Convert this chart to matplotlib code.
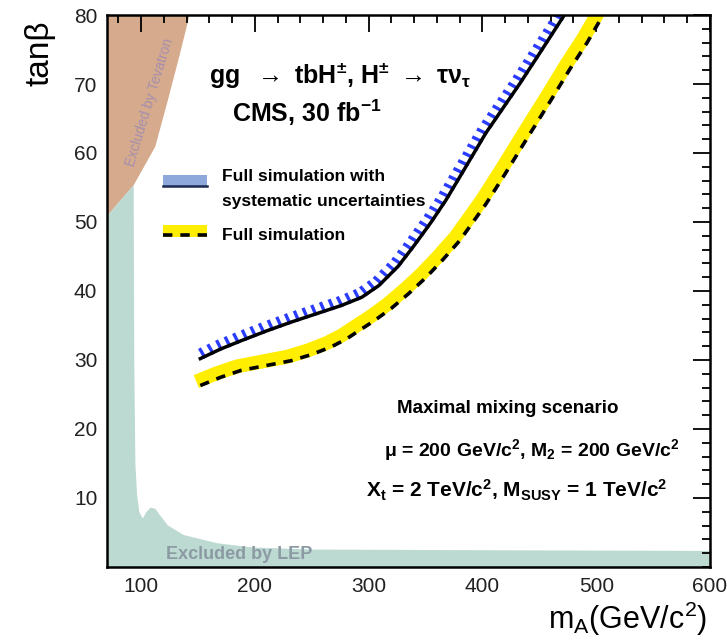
import matplotlib
matplotlib.use("Agg")
import matplotlib.pyplot as plt
import matplotlib.patheffects as pe
from matplotlib.patches import Rectangle
from matplotlib.lines import Line2D
from matplotlib.ticker import MultipleLocator
import matplotlib.transforms as mtransforms

plt.rcParams['font.family'] = ['Liberation Sans', 'DejaVu Sans']
plt.rcParams['mathtext.fontset'] = 'custom'
plt.rcParams['mathtext.rm'] = 'Liberation Sans:bold'
plt.rcParams['mathtext.bf'] = 'Liberation Sans:bold'
plt.rcParams['mathtext.it'] = 'Liberation Sans:bold'
plt.rcParams['mathtext.sf'] = 'Liberation Sans'

# excluded regions (boundaries)
tev_tanb = [51, 55.4, 61, 67.7, 74, 80]
tev_ma = [70, 93, 112, 123, 133, 142]

lep_ma = [70, 93, 93.5, 94.5, 96, 98, 101, 104, 108, 112, 116, 123, 137, 167, 197, 250, 400, 600]
lep_tanb = [51, 55.4, 30, 15, 10.5, 8, 7.1, 8.0, 8.7, 8.5, 7.6, 6.1, 4.7, 3.5, 2.9, 2.6, 2.5, 2.4]

# 5 sigma discovery curves
syst_ma = [152, 170, 188, 210, 232, 254, 276, 294, 309, 326, 340, 355, 368, 385, 403, 418, 433, 452, 472]
syst_tanb = [30.2, 31.6, 32.8, 34.2, 35.5, 36.7, 37.9, 39.1, 40.8, 43.6, 46.6, 50.0, 53.2, 57.9, 62.9, 66.5, 70.1, 74.9, 80.0]

full_ma = [152, 170, 188, 210, 232, 250, 267, 280, 291, 305, 320, 335, 350, 365, 380, 403, 420, 441, 460, 477, 492, 506]
full_tanb = [26.3, 27.5, 28.5, 29.2, 29.9, 30.8, 31.9, 33.0, 34.2, 35.7, 37.5, 39.6, 41.9, 44.5, 47.3, 52.6, 57.0, 62.6, 67.6, 72.2, 76.0, 80.0]

X_MIN, X_MAX = 70, 600
Y_MIN, Y_MAX = 0, 80

fig = plt.figure(figsize=(7.27, 6.44), dpi=100)
ax = fig.add_axes([0.1472, 0.1196, 0.8294, 0.8571])

ax.fill_betweenx(tev_tanb, X_MIN, tev_ma, color='#d6aa8c', lw=0, zorder=1)
ax.fill_between(lep_ma, Y_MIN, lep_tanb, color='#bcd9d2', lw=0, zorder=1)

ax.text(108, 67.4, "Excluded by Tevatron", rotation=73, fontsize=10,
        color='#a58fae', ha='center', va='center', zorder=2)
ax.text(186, 1.8, "Excluded by LEP", fontsize=13, fontweight='bold',
        color='#8c9ba3', ha='center', va='center', zorder=2)

# full simulation: yellow band + dashed line
band = mtransforms.offset_copy(ax.transData, fig=fig, x=-4, y=4, units='dots')
ax.plot(full_ma, full_tanb, color='#ffee00', lw=10, transform=band,
        solid_capstyle='butt', solid_joinstyle='round', zorder=3)
ax.plot(full_ma, full_tanb, color='black', lw=2.6, dashes=(2.6, 2.2), zorder=4)

# with systematics: blue hatched + solid line
ax.plot(syst_ma, syst_tanb, color='none', lw=2,
        path_effects=[pe.withTickedStroke(angle=95, spacing=6.5, length=0.9,
                                          linewidth=2.4, foreground='#2a3cff')],
        zorder=3)
ax.plot(syst_ma, syst_tanb, color='black', lw=2.5, solid_joinstyle='round', zorder=4)

# legend drawn by hand, ROOT style
ax.add_patch(Rectangle((0.093, 0.689), 0.073, 0.022, transform=ax.transAxes,
                       facecolor='#8fa8dc', edgecolor='none', zorder=5))
ax.add_line(Line2D([0.093, 0.166], [0.690, 0.690], transform=ax.transAxes,
                   color='#1a2a50', lw=1.8, zorder=6))
ax.add_patch(Rectangle((0.093, 0.598), 0.073, 0.022, transform=ax.transAxes,
                       facecolor='#ffee00', edgecolor='none', zorder=5))
ax.add_line(Line2D([0.093, 0.166], [0.601, 0.601], transform=ax.transAxes,
                   color='black', lw=2.6, dashes=(2.6, 2.2), zorder=6))
ax.text(0.191, 0.708, "Full simulation with", transform=ax.transAxes,
        fontsize=12.5, fontweight='bold', ha='left', va='center')
ax.text(0.191, 0.663, "systematic uncertainties", transform=ax.transAxes,
        fontsize=12.5, fontweight='bold', ha='left', va='center')
ax.text(0.191, 0.600, "Full simulation", transform=ax.transAxes,
        fontsize=12.5, fontweight='bold', ha='left', va='center')

ax.text(0.386, 0.891, r"gg  $\rightarrow$ tbH$^{\pm}$, H$^{\pm}$ $\rightarrow$ $\tau\nu_{\tau}$",
        transform=ax.transAxes, fontsize=18, fontweight='bold', ha='center', va='center')
ax.text(0.332, 0.822, r"CMS, 30 fb$^{-1}$", transform=ax.transAxes,
        fontsize=18, fontweight='bold', ha='center', va='center')

ax.text(0.665, 0.288, "Maximal mixing scenario", transform=ax.transAxes,
        fontsize=13.5, fontweight='bold', ha='center', va='center')
ax.text(0.705, 0.212, r"μ = 200 GeV/c$^{2}$, M$_{2}$ = 200 GeV/c$^{2}$",
        transform=ax.transAxes, fontsize=14, fontweight='bold', ha='center', va='center')
ax.text(0.68, 0.138, r"X$_{t}$ = 2 TeV/c$^{2}$, M$_{SUSY}$ = 1 TeV/c$^{2}$",
        transform=ax.transAxes, fontsize=15, fontweight='bold', ha='center', va='center')

ax.set_xlim(X_MIN, X_MAX)
ax.set_ylim(Y_MIN, Y_MAX)
ax.xaxis.set_major_locator(MultipleLocator(100))
ax.xaxis.set_minor_locator(MultipleLocator(20))
ax.yaxis.set_major_locator(MultipleLocator(10))
ax.yaxis.set_minor_locator(MultipleLocator(2))
ax.set_yticks([10, 20, 30, 40, 50, 60, 70, 80])
ax.tick_params(which='both', direction='in', top=True, right=True,
               bottom=False, left=False, width=1.3, colors='black',
               labelcolor='#222222', labelsize=15, pad=7)
ax.tick_params(which='major', length=12)
ax.tick_params(which='minor', length=6)
for s in ax.spines.values():
    s.set_linewidth(1.8)
    s.set_zorder(6)

ax.set_ylabel("tanβ", fontsize=24)
ax.yaxis.set_label_coords(-0.085, 0.93)
ax.set_xlabel(r"m$_\mathsf{A}$(GeV/c$^\mathsf{2}$)", fontsize=22, ha='right', va='baseline')
ax.xaxis.set_label_coords(0.995, -0.112)

fig.savefig("out.png", dpi=100)
